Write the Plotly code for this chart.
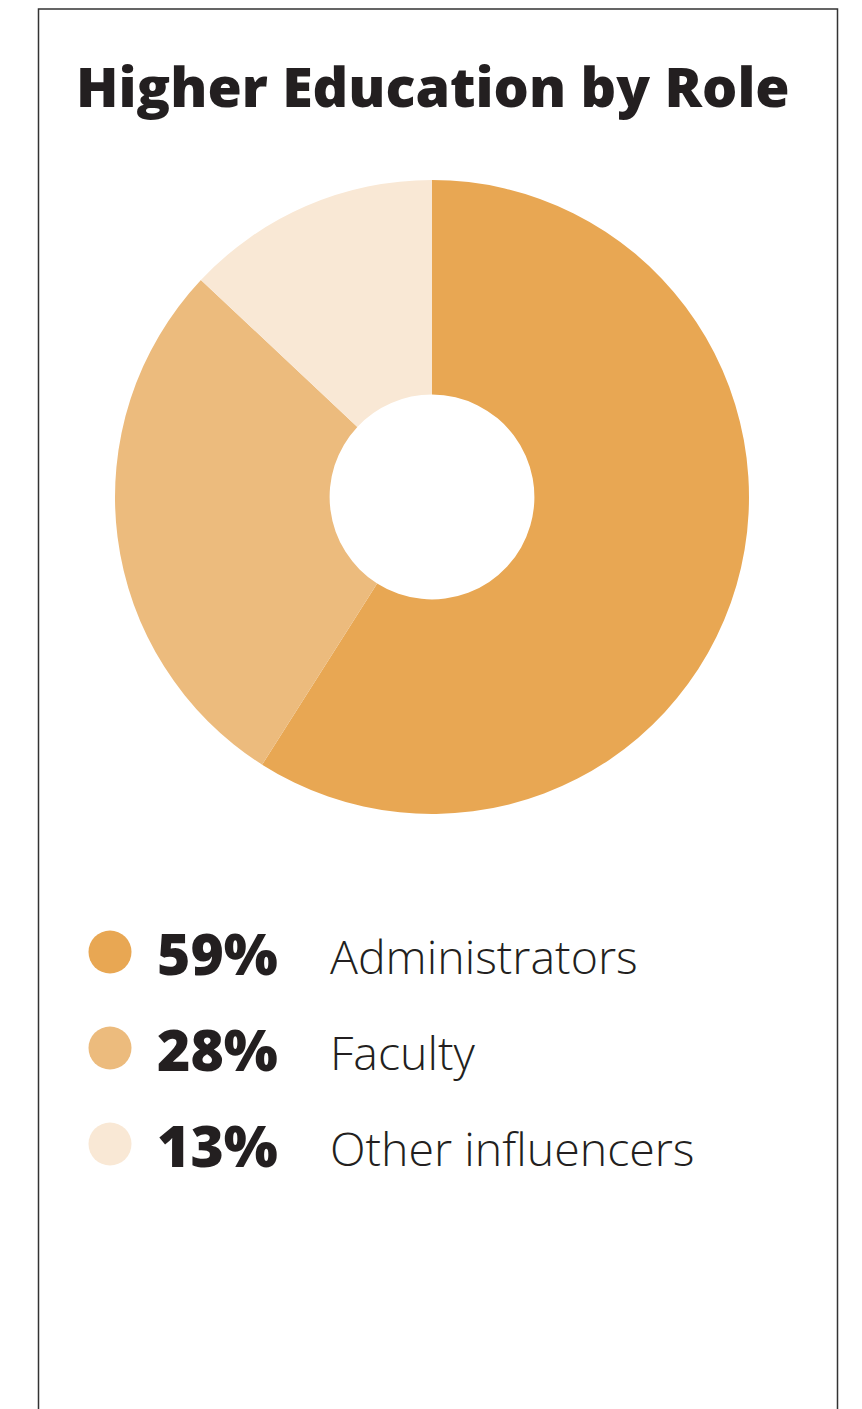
import plotly.graph_objects as go

# ---- data ----
title_text = "Higher Education by Role"
categories = ["Administrators", "Faculty", "Other influencers"]
shares = [59, 28, 13]
pct_labels = ["59%", "28%", "13%"]
colors = ["#E8A753", "#ECBB7D", "#F9E8D5"]

W, H = 862, 1409
OFF = 8  # page body margin offset
TEXT = "#231F20"

fig = go.Figure()

# donut
cx, cy, r = 432 - OFF, 497 - OFF, 317
fig.add_trace(go.Pie(
    labels=categories, values=shares, sort=False, direction="clockwise",
    rotation=0, hole=0.323, textinfo="none", hoverinfo="label+percent",
    marker=dict(colors=colors, line=dict(width=0)),
    domain=dict(x=[(cx - r) / W, (cx + r) / W],
                y=[(H - cy - r) / H, (H - cy + r) / H]),
    showlegend=False,
))

# custom legend (pixel-space overlay axis)
leg_y0, leg_dy = 952, 96
leg_ys = [leg_y0 + i * leg_dy for i in range(len(categories))]
fig.add_trace(go.Scatter(
    x=[110] * len(categories), y=leg_ys, mode="markers",
    marker=dict(size=43, color=colors, line=dict(width=0)),
    hoverinfo="skip", showlegend=False, xaxis="x", yaxis="y",
))

annotations = []
for lbl, cat, yy in zip(pct_labels, categories, leg_ys):
    annotations.append(dict(x=155, y=yy + 1, xref="x", yref="y", text=lbl,
                            showarrow=False, xanchor="left", yanchor="middle",
                            font=dict(family="Open Sans", size=57, color=TEXT, weight=800)))
    annotations.append(dict(x=328, y=yy + 4, xref="x", yref="y", text=cat,
                            showarrow=False, xanchor="left", yanchor="middle",
                            font=dict(family="Open Sans", size=46.5, color=TEXT, weight=300)))

annotations.append(dict(x=433, y=85, xref="x", yref="y", text=title_text,
                        showarrow=False, xanchor="center", yanchor="middle",
                        font=dict(family="Open Sans", size=55.5, color=TEXT, weight=800)))

fig.update_layout(
    width=W, height=H, margin=dict(l=0, r=0, t=0, b=0),
    paper_bgcolor="white", plot_bgcolor="rgba(0,0,0,0)",
    xaxis=dict(range=[OFF, W + OFF], domain=[0, 1], visible=False, fixedrange=True),
    yaxis=dict(range=[H + OFF, OFF], domain=[0, 1], visible=False, fixedrange=True),
    annotations=annotations,
    shapes=[dict(type="rect", xref="x", yref="y", x0=38.5, x1=837.5, y0=OFF + 1, y1=H + 40,
                 line=dict(color="#333333", width=1.5), fillcolor="rgba(0,0,0,0)", layer="below")],
)

fig.write_html("out.html")
